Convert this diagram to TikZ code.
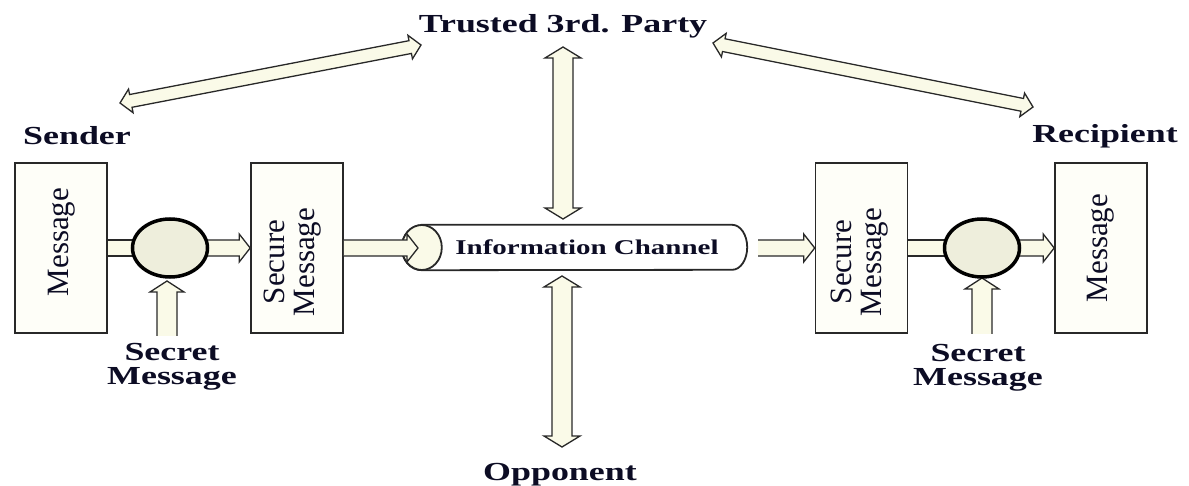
\documentclass[tikz,border=0pt]{standalone}
\usepackage{fontspec}
\setmainfont{Liberation Serif}
\usetikzlibrary{calc,shapes.geometric}
\definecolor{ink}{RGB}{12,12,36}
\definecolor{cream}{RGB}{250,250,232}
\definecolor{boxfill}{RGB}{254,254,248}
\definecolor{circfill}{RGB}{238,238,220}
\definecolor{edge}{RGB}{40,40,40}
\newcommand{\sx}[1]{\scalebox{1.38}[1]{#1}}
\def\hl{11pt}
\newcommand{\dblarrow}[4]{%
  \path[arr] let \p1=($(#2)-(#1)$), \n1={atan2(\y1,\x1)} in
    (#1) -- ($(#1)+(\n1:\hl)+(\n1+90:#4)$) -- ($(#1)+(\n1:\hl)+(\n1+90:#3)$)
    -- ($(#2)+(\n1+180:\hl)+(\n1+90:#3)$) -- ($(#2)+(\n1+180:\hl)+(\n1+90:#4)$)
    -- (#2) -- ($(#2)+(\n1+180:\hl)+(\n1-90:#4)$) -- ($(#2)+(\n1+180:\hl)+(\n1-90:#3)$)
    -- ($(#1)+(\n1:\hl)+(\n1-90:#3)$) -- ($(#1)+(\n1:\hl)+(\n1-90:#4)$) -- cycle;}
\newcommand{\onearrow}[4]{%
  \path[arr] let \p1=($(#2)-(#1)$), \n1={atan2(\y1,\x1)} in
    ($(#1)+(\n1+90:#3)$) -- ($(#2)+(\n1+180:\hl)+(\n1+90:#3)$) -- ($(#2)+(\n1+180:\hl)+(\n1+90:#4)$)
    -- (#2) -- ($(#2)+(\n1+180:\hl)+(\n1-90:#4)$) -- ($(#2)+(\n1+180:\hl)+(\n1-90:#3)$)
    -- ($(#1)+(\n1-90:#3)$);}
\newcommand{\shaft}[3]{%
  \path[arr] let \p1=($(#2)-(#1)$), \n1={atan2(\y1,\x1)} in
    ($(#1)+(\n1+90:#3)$) -- ($(#2)+(\n1+90:#3)$) -- ($(#2)+(\n1-90:#3)$) -- ($(#1)+(\n1-90:#3)$);}
\begin{document}
\begin{tikzpicture}[x=1pt,y=-1pt,
  lbl/.style={font=\fontsize{26}{24}\selectfont\bfseries, text=ink, inner sep=0pt, align=center},
  chanlbl/.style={font=\fontsize{21}{21}\selectfont\bfseries, text=ink, inner sep=0pt},
  boxn/.style={draw=edge, line width=1.6pt, fill=boxfill, minimum width=92pt, minimum height=170pt, inner sep=0pt},
  inbox/.style={rotate=90, font=\fontsize{31}{30}\selectfont, text=ink, align=center, inner sep=0pt},
  mix/.style={ellipse, draw=black, line width=3.5pt, fill=circfill, minimum width=75pt, minimum height=58pt, inner sep=0pt},
  arr/.style={fill=cream, draw=edge, line width=1.3pt},
  chanline/.style={draw=edge, line width=1.8pt}]
\useasboundingbox (0,0) rectangle (1189,486);
\fill[white] (0,0) rectangle (1189,486);

% boxes
\node[boxn] (msgL) at (61,248) {};
\node[boxn] (secL) at (297,248) {};
\node[boxn] (secR) at (861.5,248) {};
\node[boxn] (msgR) at (1101,248) {};

% channel
\node[inner sep=0pt, minimum width=345pt, minimum height=45pt] (chan) at (574.5,247.5) {};
\path[chanline, fill=white] ([xshift=20pt]chan.north west) -- ([xshift=-15pt]chan.north east)
  arc[start angle=90, end angle=-90, x radius=15pt, y radius=22.5pt]
  -- ([xshift=20pt]chan.south west)
  arc[start angle=270, end angle=90, x radius=20pt, y radius=22.5pt] -- cycle;
\path[chanline, fill=cream] ([xshift=20pt]chan.west) ellipse[x radius=20pt, y radius=22.5pt];
\node[chanlbl, anchor=base] (chantext) at (587,255) {\sx{Information Channel}};

% coordinates
\coordinate (cLc) at (170,248);
\coordinate (cRc) at (982,248);
\coordinate (tA) at (120,103);
\coordinate (tB) at (421,45);
\coordinate (tC) at (713,43);
\coordinate (tD) at (1033,107);
\coordinate (vA) at (563,47);
\coordinate (vB) at (563,219);
\coordinate (vC) at (562,276);
\coordinate (vD) at (562,447);
\coordinate (chanin) at (418,248);
\coordinate (chanout) at (758,248);
\coordinate (sL) at (167,336);
\coordinate (sLt) at (167,281);
\coordinate (sR) at (982,334);
\coordinate (sRt) at (982,278);

% arrows
\dblarrow{tA}{tB}{6.5pt}{12pt}
\dblarrow{tC}{tD}{6.5pt}{12pt}
\dblarrow{vA}{vB}{10pt}{18pt}
\dblarrow{vC}{vD}{10pt}{18pt}
\shaft{msgL.east}{cLc}{8pt}
\onearrow{cLc}{secL.west}{8pt}{14pt}
\onearrow{secL.east}{chanin}{8pt}{14pt}
\onearrow{chanout}{secR.west}{8pt}{14pt}
\shaft{secR.east}{cRc}{8pt}
\onearrow{cRc}{msgR.west}{8pt}{14pt}
\onearrow{sL}{sLt}{10pt}{17pt}
\onearrow{sR}{sRt}{10pt}{17pt}

% mixers
\node[mix] (cL) at (cLc) {};
\node[mix] (cR) at (cRc) {};

% box texts
\node[inbox] (tmL) at (62,242) {Message};
\node[inbox] (tsL) at (293,262) {Secure\\Message};
\node[inbox] (tsR) at (860,262) {Secure\\Message};
\node[inbox] (tmR) at (1101,248) {Message};

% labels
\node[lbl, anchor=base] (trusted) at (563,33) {\sx{Trusted 3rd. Party}};
\node[lbl, anchor=base] (sender) at (77,145) {\sx{Sender}};
\node[lbl, anchor=base] (recip) at (1105,143) {\sx{Recipient}};
\node[lbl, anchor=base] (opp) at (560,480) {\sx{Opponent}};
\node[lbl, anchor=north] (secretL) at (172,343) {\sx{Secret}\\\sx{Message}};
\node[lbl, anchor=north] (secretR) at (978,344) {\sx{Secret}\\\sx{Message}};
\end{tikzpicture}
\end{document}
